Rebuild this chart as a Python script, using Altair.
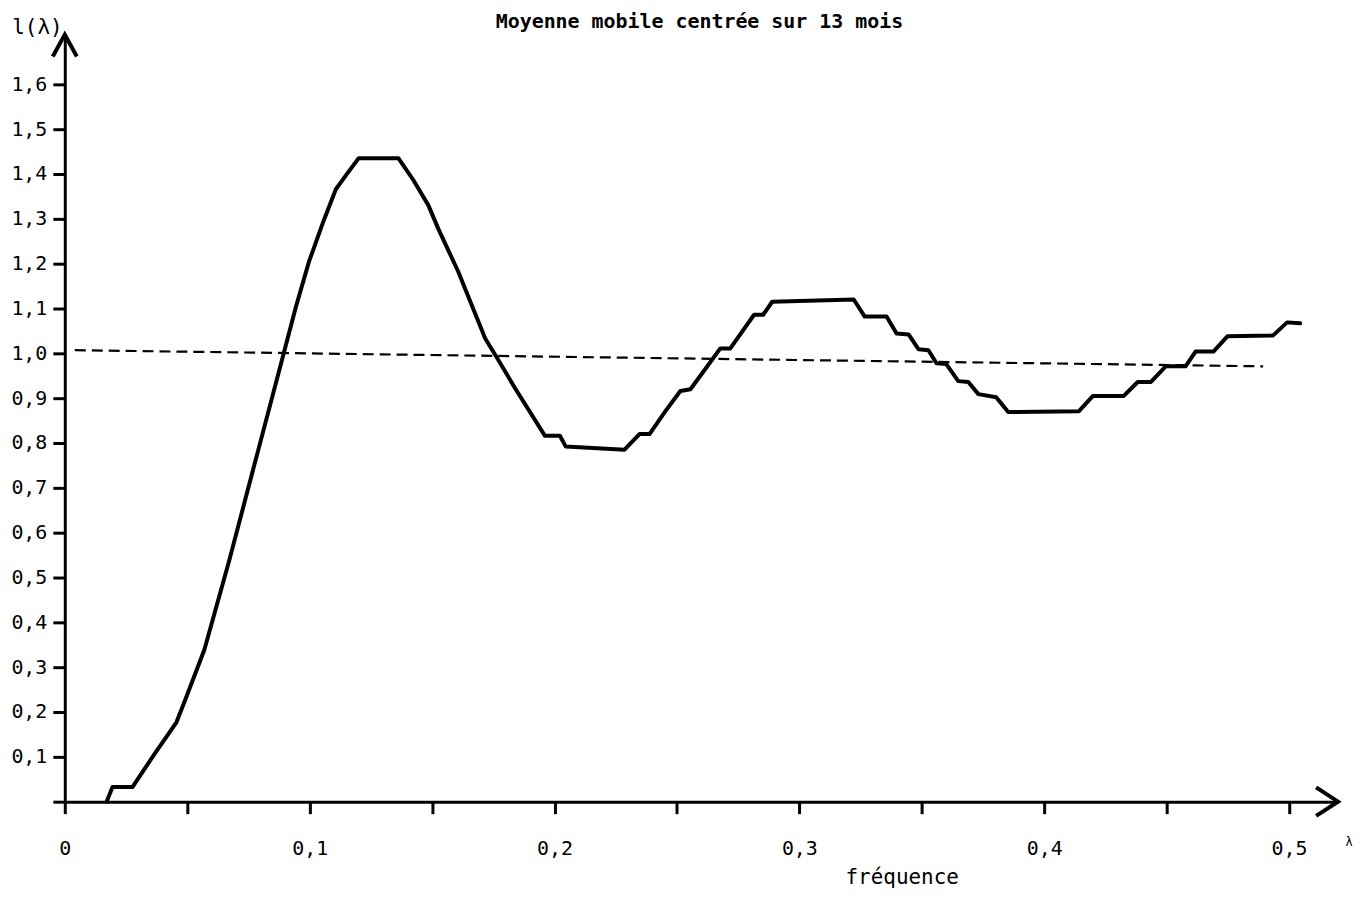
import altair as alt
import pandas as pd

# ---- data ----
freq = [0.0171, 0.0195, 0.0277, 0.0366, 0.0456, 0.0496, 0.0570, 0.0671,
        0.0895, 0.0944, 0.0997, 0.1058, 0.1107, 0.1151, 0.1200,
        0.1363, 0.1424, 0.1485, 0.1526, 0.1607, 0.1717, 0.1762, 0.1839, 0.1961, 0.2022,
        0.2046, 0.2286, 0.2347, 0.2388, 0.2453, 0.2514, 0.2555, 0.2616, 0.2677, 0.2718,
        0.2815, 0.2852, 0.2889, 0.3222, 0.3267, 0.3356, 0.3397, 0.3446, 0.3487, 0.3527,
        0.3560, 0.3600, 0.3649, 0.3690, 0.3731, 0.3804, 0.3853, 0.4142, 0.4199, 0.4325,
        0.4382, 0.4435, 0.4496, 0.4577, 0.4618, 0.4691, 0.4748, 0.4935, 0.4992, 0.5045]
gain = [0.000, 0.033, 0.033, 0.106, 0.177, 0.233, 0.339, 0.537,
        1.002, 1.104, 1.204, 1.297, 1.366, 1.399, 1.435,
        1.435, 1.386, 1.330, 1.277, 1.182, 1.033, 0.993, 0.922, 0.816, 0.816,
        0.792, 0.785, 0.820, 0.820, 0.871, 0.916, 0.920, 0.965, 1.011, 1.011,
        1.086, 1.086, 1.115, 1.120, 1.082, 1.082, 1.044, 1.042, 1.009, 1.007,
        0.978, 0.976, 0.938, 0.936, 0.909, 0.902, 0.869, 0.871, 0.905, 0.905,
        0.936, 0.936, 0.971, 0.971, 1.004, 1.004, 1.038, 1.040, 1.069, 1.067]

ref_freq = [0.0041, 0.4894]
ref_gain = [1.007, 0.971]

x_ticks = [0.0, 0.05, 0.1, 0.15, 0.2, 0.25, 0.3, 0.35, 0.4, 0.45, 0.5]
y_ticks = [0.0, 0.1, 0.2, 0.3, 0.4, 0.5, 0.6, 0.7, 0.8, 0.9, 1.0, 1.1, 1.2, 1.3, 1.4, 1.5, 1.6]

TITLE = "Moyenne mobile centrée sur 13 mois"
X_TITLE = "fréquence"
Y_TITLE = "l(λ)"

X_MAX = 0.52
Y_MAX = 1.711
W = 1278
H = 770
FONT = "DejaVu Sans Mono"

curve_df = pd.DataFrame({"freq": freq, "gain": gain})
ref_df = pd.DataFrame({"freq": ref_freq, "gain": ref_gain})
yarrow_df = pd.DataFrame({"freq": [0.0], "gain": [Y_MAX]})
xarrow_df = pd.DataFrame({"freq": [X_MAX], "gain": [0.0]})

x_axis = alt.Axis(
    values=x_ticks, tickSize=12, tickWidth=3, domainWidth=3,
    labelExpr="datum.value == 0 ? '0' : (round(datum.value*100) % 10 == 0 ? replace(format(datum.value, '.1f'), '.', ',') : '')",
    labelFont=FONT, labelFontSize=20, labelPadding=25, labelFlush=False,
    labelOverlap=False, labelColor="black",
    title=X_TITLE, titleX=840, titleY=82, titleAlign="center",
    titleBaseline="alphabetic", titleFont=FONT, titleFontSize=21,
    titleFontWeight="normal", titleColor="black",
)
y_axis = alt.Axis(
    values=y_ticks, tickSize=12, tickWidth=3, domainWidth=3,
    labelExpr="datum.value < 0.05 ? '' : replace(format(datum.value, '.1f'), '.', ',')",
    labelFont=FONT, labelFontSize=20, labelPadding=6, labelOverlap=False,
    labelColor="black",
    title=Y_TITLE, titleAngle=0, titleX=-28, titleY=-7, titleAlign="center",
    titleBaseline="middle", titleFont=FONT, titleFontSize=21,
    titleFontWeight="normal", titleColor="black",
)

X = alt.X("freq:Q", scale=alt.Scale(domain=[0, X_MAX], nice=False, zero=False), axis=x_axis)
Y = alt.Y("gain:Q", scale=alt.Scale(domain=[0, Y_MAX], nice=False, zero=False), axis=y_axis)

curve = alt.Chart(curve_df).mark_line(
    color="black", strokeWidth=4, strokeJoin="round", strokeCap="round"
).encode(x=X, y=Y)

ref_line = alt.Chart(ref_df).mark_line(
    color="black", strokeWidth=2.2, strokeDash=[11, 6]
).encode(x=X, y=Y)

y_arrow = alt.Chart(yarrow_df).mark_point(
    shape="M -0.55 1 L 0 0 L 0.55 1", size=1936, filled=False,
    strokeWidth=4, color="black", opacity=1
).encode(x=X, y=Y)

x_arrow = alt.Chart(xarrow_df).mark_point(
    shape="M -1 -0.65 L 0 0 L -1 0.65", size=1936, filled=False,
    strokeWidth=4, color="black", opacity=1
).encode(x=X, y=Y)

title_txt = alt.Chart(pd.DataFrame({"t": [TITLE]})).mark_text(
    font=FONT, fontSize=20, fontWeight="bold", align="center",
    baseline="middle", color="black"
).encode(x=alt.value(637), y=alt.value(-13), text="t:N")

lam_txt = alt.Chart(pd.DataFrame({"t": ["λ"]})).mark_text(
    font="DejaVu Sans", fontSize=12, align="center", baseline="middle",
    color="black"
).encode(x=alt.value(1289), y=alt.value(H + 40), text="t:N")

chart = alt.layer(curve, ref_line, y_arrow, x_arrow, title_txt, lam_txt).properties(
    width=W, height=H,
    autosize=alt.AutoSizeParams(type="none"),
    padding={"left": 57, "top": 25, "right": 15, "bottom": 85},
    background="white",
).configure_view(stroke=None).configure_axis(
    grid=False, domainColor="black", tickColor="black"
)

chart.save("out.html", embed_options={"renderer": "svg", "actions": False})
